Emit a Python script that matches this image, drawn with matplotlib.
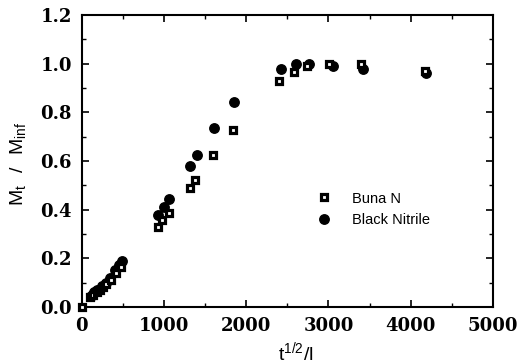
import matplotlib.pyplot as plt
from matplotlib.ticker import MultipleLocator

# Data
buna_x = [0, 100, 140, 180, 220, 260, 300, 350, 420, 480,
          931, 972, 1065, 1316, 1377, 1591, 1834, 2401, 2583, 2741, 3008, 3401, 4170]
buna_y = [0.0, 0.04, 0.05, 0.06, 0.07, 0.08, 0.095, 0.11, 0.14, 0.165,
          0.33, 0.355, 0.385, 0.49, 0.52, 0.623, 0.727, 0.93, 0.967, 0.99, 1.0, 1.0, 0.971]

nitrile_x = [110, 150, 190, 240, 290, 340, 400, 450, 490,
             931, 1004, 1065, 1316, 1405, 1607, 1850, 2417, 2603, 2765, 3057, 3421, 4190]
nitrile_y = [0.045, 0.06, 0.07, 0.085, 0.10, 0.12, 0.15, 0.17, 0.19,
             0.377, 0.409, 0.443, 0.579, 0.624, 0.737, 0.844, 0.977, 0.999, 1.0, 0.992, 0.977, 0.963]

xticks = [0, 1000, 2000, 3000, 4000, 5000]
yticks = [0.0, 0.2, 0.4, 0.6, 0.8, 1.0, 1.2]

fig = plt.figure(figsize=(5.21, 3.64), dpi=100)
ax = fig.add_axes([0.157, 0.157, 0.789, 0.802])

ax.plot(buna_x, buna_y, linestyle='none', marker='s', markersize=5,
        markerfacecolor='white', markeredgecolor='black', markeredgewidth=2.3,
        label='Buna N', zorder=3, clip_on=False)
ax.plot(nitrile_x, nitrile_y, linestyle='none', marker='o', markersize=6.8,
        color='black', label='Black Nitrile', zorder=2)

ax.set_xlim(0, 5000)
ax.set_ylim(0, 1.2)
ax.set_xticks(xticks)
ax.set_yticks(yticks)
ax.xaxis.set_minor_locator(MultipleLocator(500))
ax.yaxis.set_minor_locator(MultipleLocator(0.1))
ax.tick_params(which='both', direction='in', top=True, right=True)
ax.tick_params(which='major', length=5, width=1.2)
ax.tick_params(which='minor', length=3, width=1)
ax.tick_params(axis='x', pad=7)
ax.tick_params(axis='y', pad=7)
for s in ax.spines.values():
    s.set_linewidth(1.5)

ax.set_xticklabels([str(v) for v in xticks],
                   family='DejaVu Serif', weight='bold', fontsize=13)
ax.set_yticklabels(['%.1f' % v for v in yticks],
                   family='DejaVu Serif', weight='bold', fontsize=13)

ax.set_xlabel(r'$\mathregular{t^{1/2}/l}$', family='Liberation Sans', fontsize=14)
ax.xaxis.set_label_coords(0.52, -0.115)
ax.set_ylabel(r'$\mathregular{M_t\ \ /\ \ M_{inf}}$', family='Liberation Sans', fontsize=14)
ax.yaxis.set_label_coords(-0.13, 0.49)

ax.legend(loc='upper left', bbox_to_anchor=(0.54, 0.44), frameon=False,
          prop={'family': 'Liberation Sans', 'size': 10.5}, handletextpad=1.4,
          labelspacing=0.5, handlelength=1.0)

fig.savefig('out.png', dpi=100)
